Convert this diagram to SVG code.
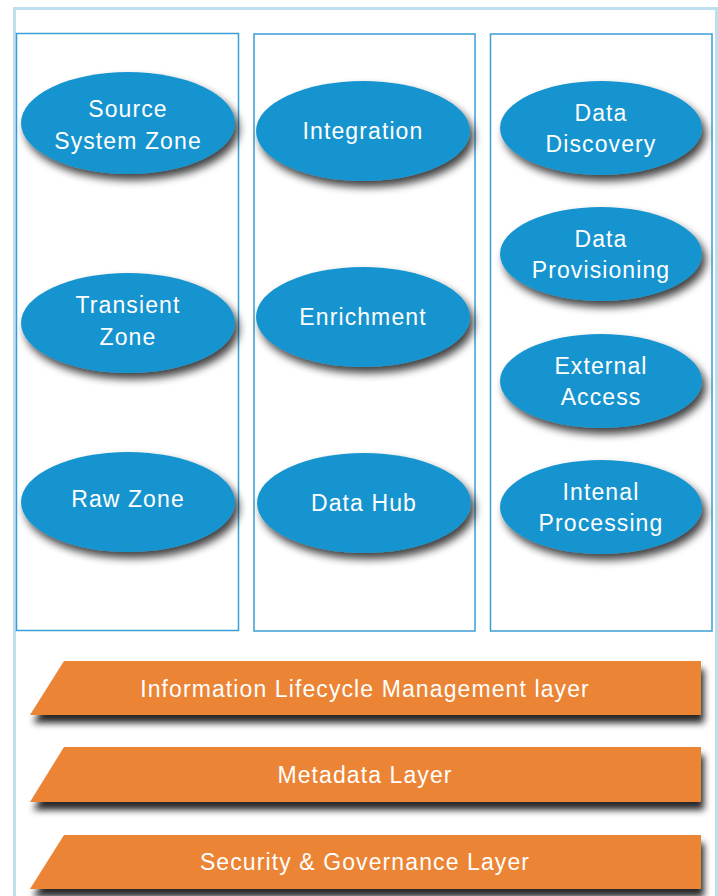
<svg xmlns="http://www.w3.org/2000/svg" width="718" height="896" viewBox="0 0 718 896">
<defs>
<filter id="sh" x="-20%" y="-30%" width="150%" height="170%">
<feGaussianBlur in="SourceAlpha" stdDeviation="4"/>
<feOffset dx="4" dy="6" result="b"/>
<feComponentTransfer><feFuncA type="linear" slope="0.75"/></feComponentTransfer>
<feMerge><feMergeNode/><feMergeNode in="SourceGraphic"/></feMerge>
</filter>
<filter id="bsh" x="-10%" y="-30%" width="120%" height="200%">
<feGaussianBlur in="SourceAlpha" stdDeviation="3.5"/>
<feOffset dx="3" dy="8" result="b"/>
<feComponentTransfer><feFuncA type="linear" slope="0.85"/></feComponentTransfer>
<feMerge><feMergeNode/><feMergeNode in="SourceGraphic"/></feMerge>
</filter>
</defs>
<style>
.col{fill:none;stroke:#3a9fd6;stroke-width:1.5}
.ell{fill:#1994cf;filter:url(#sh)}
.band{fill:#ec8434;filter:url(#bsh)}
text{font-family:"Liberation Sans",Arial,sans-serif;font-size:23px;fill:#ffffff;text-anchor:middle;letter-spacing:1.1px}
</style>
<rect width="718" height="896" fill="#ffffff"/>
<rect x="14.5" y="8.5" width="702" height="900" fill="none" stroke="#bfdff1" stroke-width="3"/>
<rect class="col" x="16.5" y="33.5" width="222" height="597"/>
<rect class="col" x="254" y="34" width="221" height="597"/>
<rect class="col" x="490.5" y="34" width="221.5" height="597"/>
<g id="source-system-zone"><ellipse class="ell" cx="128" cy="123" rx="107" ry="51"/><text x="128" y="117">Source</text><text x="128" y="149">System Zone</text></g>
<g id="transient-zone"><ellipse class="ell" cx="128" cy="323" rx="107" ry="50"/><text x="128" y="313">Transient</text><text x="128" y="345">Zone</text></g>
<g id="raw-zone"><ellipse class="ell" cx="128" cy="502" rx="107" ry="50"/><text x="128" y="507">Raw Zone</text></g>
<g id="integration"><ellipse class="ell" cx="363" cy="131" rx="107" ry="50"/><text x="363" y="139">Integration</text></g>
<g id="enrichment"><ellipse class="ell" cx="363" cy="317" rx="107" ry="50"/><text x="363" y="325">Enrichment</text></g>
<g id="data-hub"><ellipse class="ell" cx="364" cy="503" rx="107" ry="50"/><text x="364" y="511">Data Hub</text></g>
<g id="data-discovery"><ellipse class="ell" cx="601" cy="128" rx="101" ry="47"/><text x="601" y="121">Data</text><text x="601" y="152">Discovery</text></g>
<g id="data-provisioning"><ellipse class="ell" cx="601" cy="254" rx="101" ry="47"/><text x="601" y="247">Data</text><text x="601" y="278">Provisioning</text></g>
<g id="external-access"><ellipse class="ell" cx="601" cy="381" rx="101" ry="47"/><text x="601" y="374">External</text><text x="601" y="405">Access</text></g>
<g id="internal-processing"><ellipse class="ell" cx="601" cy="507" rx="101" ry="47"/><text x="601" y="500">Intenal</text><text x="601" y="531">Processing</text></g>
<g id="ilm-layer"><polygon class="band" points="64,661 701,661 701,715 30,715"/><text x="365" y="697">Information Lifecycle Management layer</text></g>
<g id="metadata-layer"><polygon class="band" points="64,747 701,747 701,802 30,802"/><text x="365" y="783">Metadata Layer</text></g>
<g id="security-layer"><polygon class="band" points="64,835 701,835 701,889 30,889"/><text x="365" y="870">Security &amp; Governance Layer</text></g>
<g id="connectors"/>
</svg>
